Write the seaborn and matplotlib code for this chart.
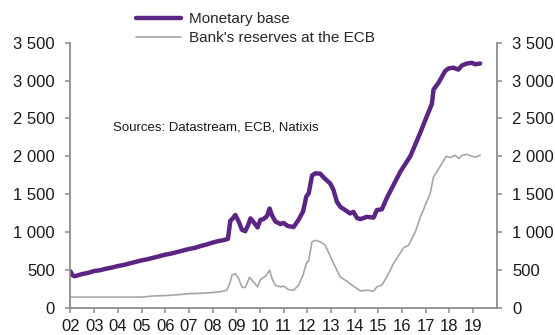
import matplotlib
matplotlib.use("Agg")
import matplotlib.pyplot as plt
from matplotlib.lines import Line2D
from matplotlib.ticker import FuncFormatter
import seaborn as sns
import pandas as pd

# Euro area monetary base and bank reserves held at the ECB (EUR bn)
mb_years = [2002.0, 2002.08, 2002.17, 2002.5, 2002.75, 2003.0, 2003.25, 2003.5, 2003.75,
            2004.0, 2004.25, 2004.5, 2004.75, 2005.0, 2005.25, 2005.5, 2005.75, 2006.0,
            2006.25, 2006.5, 2006.75, 2007.0, 2007.25, 2007.5, 2007.75, 2008.0, 2008.25,
            2008.5, 2008.65, 2008.75, 2008.83, 2008.96, 2009.1, 2009.24, 2009.38, 2009.5,
            2009.6, 2009.73, 2009.9, 2010.02, 2010.15, 2010.3, 2010.41, 2010.51, 2010.65,
            2010.86, 2011.0, 2011.17, 2011.42, 2011.63, 2011.82, 2011.96, 2012.06, 2012.2,
            2012.34, 2012.55, 2012.69, 2012.83, 2012.97, 2013.1, 2013.25, 2013.4, 2013.6,
            2013.81, 2013.95, 2014.1, 2014.24, 2014.52, 2014.8, 2014.94, 2015.15, 2015.36,
            2015.64, 2015.92, 2016.06, 2016.35, 2016.77, 2017.05, 2017.26, 2017.33, 2017.54,
            2017.82, 2017.96, 2018.17, 2018.38, 2018.53, 2018.74, 2018.95, 2019.09, 2019.3]
monetary_base = [480, 430, 415, 445, 460, 485, 495, 515, 530,
                 550, 565, 585, 605, 625, 640, 660, 680, 700,
                 715, 735, 755, 775, 790, 815, 835, 860, 880,
                 895, 910, 1150, 1170, 1225, 1140, 1030, 1010, 1090,
                 1180, 1130, 1060, 1160, 1170, 1210, 1310, 1220, 1140,
                 1105, 1120, 1080, 1065, 1160, 1270, 1470, 1510, 1745,
                 1775, 1770, 1720, 1680, 1640, 1560, 1400, 1330, 1290,
                 1245, 1265, 1185, 1170, 1200, 1190, 1290, 1300, 1450,
                 1620, 1790, 1860, 2000, 2310, 2530, 2690, 2880, 2970,
                 3125, 3160, 3170, 3145, 3200, 3225, 3235, 3215, 3225]

res_years = [2002.0, 2005.0, 2005.5, 2006.0, 2006.5, 2007.0, 2007.5, 2008.0, 2008.3,
             2008.6, 2008.75, 2008.82, 2008.96, 2009.1, 2009.24, 2009.38, 2009.56, 2009.73,
             2009.9, 2010.02, 2010.23, 2010.41, 2010.51, 2010.65, 2010.86, 2011.0, 2011.2,
             2011.42, 2011.63, 2011.82, 2011.96, 2012.06, 2012.2, 2012.34, 2012.55, 2012.76,
             2012.97, 2013.18, 2013.39, 2013.67, 2013.88, 2014.1, 2014.24, 2014.52, 2014.8,
             2014.94, 2015.15, 2015.36, 2015.64, 2015.92, 2016.06, 2016.28, 2016.56, 2016.77,
             2016.98, 2017.19, 2017.33, 2017.47, 2017.68, 2017.87, 2018.04, 2018.25, 2018.4,
             2018.53, 2018.74, 2018.95, 2019.09, 2019.3]
reserves = [140, 140, 155, 160, 170, 185, 190, 200, 210,
            230, 340, 430, 450, 385, 275, 265, 400, 340,
            275, 370, 415, 495, 385, 297, 275, 285, 240,
            230, 297, 430, 585, 625, 870, 890, 870, 825,
            680, 540, 407, 350, 300, 253, 222, 231, 218,
            275, 297, 407, 583, 720, 790, 825, 1000, 1190,
            1353, 1507, 1727, 1793, 1903, 2000, 1983, 2013, 1970,
            2013, 2026, 2000, 1990, 2013]

year_ticks = list(range(2002, 2020))
year_labels = [f"{y % 100:02d}" for y in year_ticks]
series_names = ["Monetary base", "Bank's reserves at the ECB"]
source_note = "Sources: Datastream, ECB, Natixis"

sns.set_theme(style="white")
plt.rcParams["font.family"] = ["Liberation Sans", "DejaVu Sans"]

PURPLE = "#5B2683"
GREY = "#A6A6A6"
AXIS = "#8C8C8C"
TEXT = "#1a1a1a"

fig = plt.figure(figsize=(5.55, 3.35), dpi=100)
ax = fig.add_axes([0.127, 0.0815, 0.768, 0.791])

mb_df = pd.DataFrame({"year": mb_years, "value": monetary_base})
res_df = pd.DataFrame({"year": res_years, "value": reserves})
sns.lineplot(data=res_df, x="year", y="value", ax=ax, color=GREY, linewidth=1.2)
sns.lineplot(data=mb_df, x="year", y="value", ax=ax, color=PURPLE, linewidth=3.2)

ax.set_xlim(2002, 2020)
ax.set_ylim(0, 3500)
ax.set_xticks(year_ticks)
ax.set_xticklabels(year_labels)
ax.set_yticks(range(0, 3501, 500))
ax.yaxis.set_major_formatter(FuncFormatter(lambda v, _: f"{int(v):,}".replace(",", " ")))
ax.set_xlabel("")
ax.set_ylabel("")

for side in ("left", "right", "bottom"):
    ax.spines[side].set_visible(True)
    ax.spines[side].set_color(AXIS)
    ax.spines[side].set_linewidth(1.3)
ax.spines["top"].set_visible(False)

ax.tick_params(axis="both", direction="out", length=3.3, width=1.1, color=AXIS,
               labelsize=12, labelcolor=TEXT)
ax.tick_params(axis="y", left=True, right=True, labelleft=True, labelright=True, pad=8)
ax.tick_params(axis="x", bottom=True, pad=4.5)

handles = [Line2D([], [], color=PURPLE, linewidth=3.2),
           Line2D([], [], color=GREY, linewidth=1.2)]
fig.legend(handles, series_names, loc="upper left",
           bbox_to_anchor=(136 / 555, 1 - 12 / 335), frameon=False,
           fontsize=11, handlelength=2.95, handletextpad=0.55,
           labelspacing=0.35, borderpad=0, borderaxespad=0)

fig.text(113 / 555, 1 - 128 / 335, source_note, fontsize=9.5, color=TEXT,
         va="center", ha="left")

fig.savefig("out.png", dpi=100)
